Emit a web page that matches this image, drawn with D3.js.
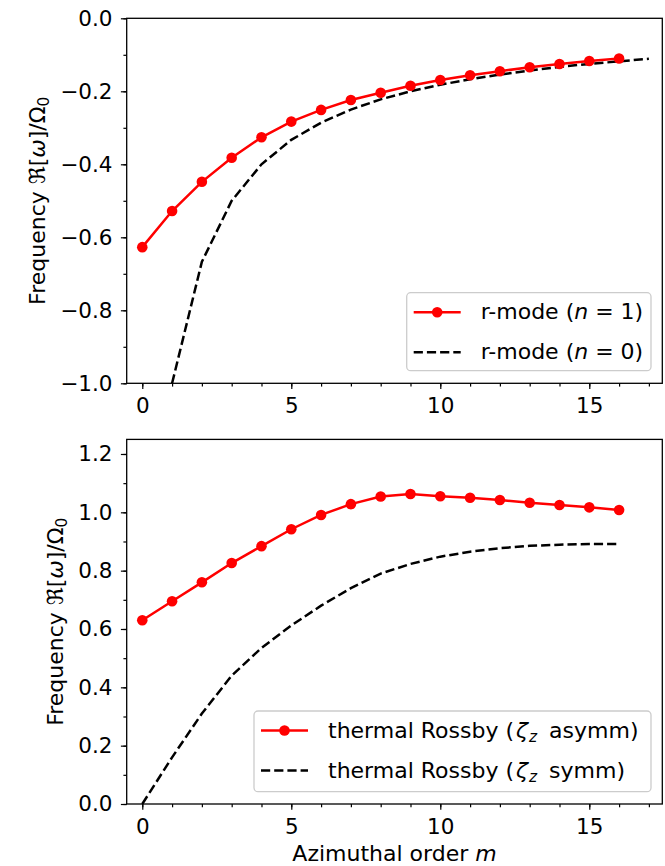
<!DOCTYPE html>
<html>
<head>
<meta charset="utf-8">
<script src="https://cdn.jsdelivr.net/npm/d3@7"></script>
<style>
  html, body { margin: 0; padding: 0; background: #fff; }
  svg { display: block; }
  text { font-family: "DejaVu Sans", sans-serif; fill: #000; }
</style>
</head>
<body>
<svg id="fig" width="665" height="866"></svg>
<script>
// Azimuthal orders and mode frequencies (in units of Omega_0)
const mOrders = [0, 1, 2, 3, 4, 5, 6, 7, 8, 9, 10, 11, 12, 13, 14, 15, 16];
const rModeN1 = [-0.627, -0.528, -0.448, -0.382, -0.326, -0.283, -0.251, -0.224, -0.204,
                 -0.185, -0.169, -0.156, -0.145, -0.134, -0.125, -0.117, -0.110];
const mOrdersN0 = [1, 2, 3, 4, 5, 6, 7, 8, 9, 10, 11, 12, 13, 14, 15, 16, 17];
const rModeN0 = [-1.0, -0.667, -0.5, -0.4, -0.333, -0.286, -0.25, -0.222, -0.2,
                 -0.182, -0.167, -0.154, -0.143, -0.133, -0.125, -0.118, -0.111];
const thermalAsymm = [0.630, 0.695, 0.760, 0.826, 0.884, 0.942, 0.991, 1.028, 1.054,
                      1.063, 1.055, 1.050, 1.042, 1.033, 1.025, 1.017, 1.008];
const thermalSymm = [0.0, 0.16, 0.31, 0.44, 0.535, 0.612, 0.68, 0.74, 0.79,
                     0.823, 0.848, 0.865, 0.877, 0.885, 0.889, 0.891, 0.891];

const xMajorTicks = [0, 5, 10, 15];
const xMinorTicks = d3.range(0, 18);
const topYMajor = [0.0, -0.2, -0.4, -0.6, -0.8, -1.0];
const topYMinor = d3.range(-10, 1).map(d => d / 10);
const botYMajor = [0.0, 0.2, 0.4, 0.6, 0.8, 1.0, 1.2];
const botYMinor = d3.range(0, 13).map(d => d / 10);

const FS = 22;      // labels and legend
const TFS = 21.5;   // tick labels
const RED = "#ff0000";
const svg = d3.select("#fig");

const x = d3.scaleLinear().domain([-0.523, 17.45]).range([126.7, 662.3]);

function drawPanel(cfg) {
  const g = svg.append("g");
  const y = d3.scaleLinear().domain(cfg.yDomain).range(cfg.yRange);
  const [x0, x1] = x.range();
  const yTop = cfg.yRange[1], yBot = cfg.yRange[0];

  const clipId = "clip" + cfg.id;
  svg.append("defs").append("clipPath").attr("id", clipId)
    .append("rect").attr("x", x0).attr("y", yTop).attr("width", x1 - x0).attr("height", yBot - yTop);

  const plot = g.append("g").attr("clip-path", `url(#${clipId})`);
  const line = d3.line().x(d => x(d[0])).y(d => y(d[1]));

  // dashed series
  plot.append("path")
    .datum(d3.zip(cfg.dashX, cfg.dashY))
    .attr("d", line)
    .attr("fill", "none").attr("stroke", "#000").attr("stroke-width", 2.5)
    .attr("stroke-dasharray", "9.2,4");

  // solid series with markers
  const pts = d3.zip(cfg.solidX, cfg.solidY);
  plot.append("path").datum(pts).attr("d", line)
    .attr("fill", "none").attr("stroke", RED).attr("stroke-width", 2.5);
  plot.selectAll("circle.pt").data(pts).join("circle")
    .attr("class", "pt")
    .attr("cx", d => x(d[0])).attr("cy", d => y(d[1])).attr("r", 5.3)
    .attr("fill", RED);

  // frame
  g.append("rect").attr("x", x0).attr("y", yTop).attr("width", x1 - x0).attr("height", yBot - yTop)
    .attr("fill", "none").attr("stroke", "#000").attr("stroke-width", 1.3);

  // x axis
  const xMin = g.append("g").attr("transform", `translate(0,${yBot})`)
    .call(d3.axisBottom(x).tickValues(xMinorTicks).tickSize(3.3).tickFormat(""));
  const xMaj = g.append("g").attr("transform", `translate(0,${yBot})`)
    .call(d3.axisBottom(x).tickValues(xMajorTicks).tickSize(5.8).tickPadding(5).tickFormat(d3.format("d")));
  xMaj.selectAll("text").attr("font-size", TFS).attr("font-family", "DejaVu Sans")
    .attr("dy", null).attr("y", 0).attr("transform", "translate(0,30)");

  // y axis
  const yMin = g.append("g").attr("transform", `translate(${x0},0)`)
    .call(d3.axisLeft(y).tickValues(cfg.yMinor).tickSize(3.3).tickFormat(""));
  const yMaj = g.append("g").attr("transform", `translate(${x0},0)`)
    .call(d3.axisLeft(y).tickValues(cfg.yMajor).tickSize(5.8).tickPadding(8.5).tickFormat(d3.format(".1f")));
  yMaj.selectAll("text").attr("font-size", TFS).attr("font-family", "DejaVu Sans");

  [xMin, xMaj, yMin, yMaj].forEach(a => {
    a.select(".domain").remove();
    a.selectAll("line").attr("stroke", "#000").attr("stroke-width", 1.2);
    a.selectAll("text").attr("fill", "#000");
  });

  // y label
  const yl = g.append("text")
    .attr("transform", `translate(${cfg.yLabelX},${(yTop + yBot) / 2}) rotate(-90)`)
    .attr("text-anchor", "middle").attr("font-size", FS);
  yl.append("tspan").text("Frequency \u211C[");
  yl.append("tspan").attr("font-style", "italic").text("\u03C9");
  yl.append("tspan").text("]/\u03A9");
  yl.append("tspan").attr("font-size", FS * 0.7).attr("dy", 4).text("0");

  // legend
  const L = cfg.legend;
  const lg = g.append("g");
  lg.append("rect").attr("x", L.x).attr("y", L.y).attr("width", L.w).attr("height", L.h)
    .attr("rx", 4).attr("fill", "#fff").attr("fill-opacity", 0.8)
    .attr("stroke", "#cccccc").attr("stroke-width", 1.3);
  const hx0 = L.x + 7, hx1 = L.x + 54, tx = L.x + 74;
  const r1 = L.y + 26.5, r2 = r1 + 40;
  lg.append("line").attr("x1", hx0).attr("x2", hx1).attr("y1", r1 - 7).attr("y2", r1 - 7)
    .attr("stroke", RED).attr("stroke-width", 2.5);
  lg.append("circle").attr("cx", (hx0 + hx1) / 2).attr("cy", r1 - 7).attr("r", 5.3).attr("fill", RED);
  lg.append("line").attr("x1", hx0).attr("x2", hx1).attr("y1", r2 - 7).attr("y2", r2 - 7)
    .attr("stroke", "#000").attr("stroke-width", 2.5).attr("stroke-dasharray", "9.2,4");
  L.label(lg.append("text").attr("x", tx).attr("y", r1).attr("font-size", FS), 0);
  L.label(lg.append("text").attr("x", tx).attr("y", r2).attr("font-size", FS), 1);
}

const rModeText = ["1", "0"];
drawPanel({
  id: "top",
  yDomain: [-1.0, 0.0], yRange: [383.3, 18.3],
  yMajor: topYMajor, yMinor: topYMinor,
  dashX: mOrdersN0, dashY: rModeN0,
  solidX: mOrders, solidY: rModeN1,
  yLabelX: 45,
  legend: {
    x: 406.7, y: 292.7, w: 244.3, h: 78,
    label: (t, i) => {
      t.append("tspan").text("r-mode (");
      t.append("tspan").attr("font-style", "italic").text("n");
      t.append("tspan").text(" = " + rModeText[i] + ")");
    }
  }
});

const symText = ["asymm)", "symm)"];
drawPanel({
  id: "bot",
  yDomain: [0.0, 1.25], yRange: [804, 439.4],
  yMajor: botYMajor, yMinor: botYMinor,
  dashX: mOrders, dashY: thermalSymm,
  solidX: mOrders, solidY: thermalAsymm,
  yLabelX: 63,
  legend: {
    x: 254, y: 711, w: 397, h: 80.7,
    label: (t, i) => {
      t.append("tspan").text("thermal Rossby (");
      t.append("tspan").attr("font-style", "italic").attr("dx", 2).text("\u03B6");
      t.append("tspan").attr("font-style", "italic").attr("font-size", FS * 0.7).attr("dy", 4).attr("dx", 1).text("z");
      t.append("tspan").attr("dy", -4).attr("dx", 5).text(" " + symText[i]);
    }
  }
});

// shared x label
const xl = svg.append("text").attr("x", 394.5).attr("y", 861)
  .attr("text-anchor", "middle").attr("font-size", FS);
xl.append("tspan").text("Azimuthal order ");
xl.append("tspan").attr("font-style", "italic").text("m");
</script>
</body>
</html>
